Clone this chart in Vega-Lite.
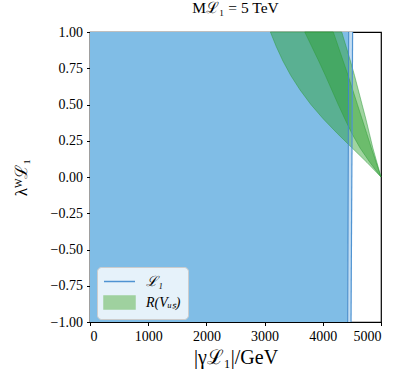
{
  "$schema": "https://vega.github.io/schema/vega-lite/v6.json",
  "autosize": "none",
  "padding": {"left": 90, "top": 32, "right": 26, "bottom": 61},
  "width": 291,
  "height": 290,
  "background": "white",
  "title": {"text": "Mℒ₁ = 5 TeV", "font": "Liberation Serif", "fontSize": 15.5, "fontWeight": "normal", "color": "black", "offset": 9, "anchor": "middle"},
  "config": {
    "view": {"stroke": "black", "strokeWidth": 1.2},
    "style": {"guide-label": {"font": "Liberation Serif"}, "guide-title": {"font": "Liberation Serif"}},
    "axis": {"grid": false, "domainColor": "black", "domainWidth": 1.2, "tickColor": "black", "tickSize": 3.5, "labelFont": "Liberation Serif", "labelFontSize": 14, "labelColor": "black", "titleFont": "Liberation Serif", "titleFontSize": 20, "titleFontWeight": "normal", "titleColor": "black", "zindex": 2},
    "legend": {"labelFont": "Liberation Serif"}
  },
  "datasets": {
    "blue": [
      {"s": "ℒ₁", "y": -1, "xf": 4428, "xl": 4485},
      {"s": "ℒ₁", "y": 1, "xf": 4445, "xl": 4512}
    ],
    "green": [
      {"band": "1", "y": 0, "xa": 5000, "xb": 5000},
      {"band": "1", "y": 0.1, "xa": 4760, "xb": 4918},
      {"band": "1", "y": 0.2, "xa": 4505, "xb": 4835},
      {"band": "1", "y": 0.3, "xa": 4250, "xb": 4755},
      {"band": "1", "y": 0.4, "xa": 4010, "xb": 4675},
      {"band": "1", "y": 0.5, "xa": 3795, "xb": 4595},
      {"band": "1", "y": 0.6, "xa": 3610, "xb": 4515},
      {"band": "1", "y": 0.7, "xa": 3450, "xb": 4435},
      {"band": "1", "y": 0.8, "xa": 3315, "xb": 4350},
      {"band": "1", "y": 0.9, "xa": 3200, "xb": 4265},
      {"band": "1", "y": 1.0, "xa": 3100, "xb": 4180},
      {"band": "2", "y": 0, "xa": 5000, "xb": 5000},
      {"band": "2", "y": 0.1, "xa": 4810, "xb": 4930},
      {"band": "2", "y": 0.2, "xa": 4640, "xb": 4860},
      {"band": "2", "y": 0.3, "xa": 4500, "xb": 4800},
      {"band": "2", "y": 0.4, "xa": 4380, "xb": 4740},
      {"band": "2", "y": 0.5, "xa": 4265, "xb": 4675},
      {"band": "2", "y": 0.6, "xa": 4155, "xb": 4610},
      {"band": "2", "y": 0.7, "xa": 4045, "xb": 4545},
      {"band": "2", "y": 0.8, "xa": 3930, "xb": 4475},
      {"band": "2", "y": 0.9, "xa": 3810, "xb": 4400},
      {"band": "2", "y": 1.0, "xa": 3690, "xb": 4325}
    ]
  },
  "encoding": {
    "y": {"field": "y", "type": "quantitative", "scale": {"domain": [-1, 1], "nice": false}, "axis": {"values": [-1, -0.75, -0.5, -0.25, 0, 0.25, 0.5, 0.75, 1], "format": ".2f", "title": "λᵂℒ₁", "titleFontSize": 17, "titlePadding": 20, "labelFont": "Liberation Serif", "labelPadding": 4}}
  },
  "layer": [
    {
      "data": {"name": "blue"},
      "mark": {"type": "area", "orient": "horizontal", "color": "#80bde6"},
      "encoding": {
        "x": {"field": "xf", "type": "quantitative", "scale": {"domain": [0, 5000], "nice": false}, "axis": {"values": [0, 1000, 2000, 3000, 4000, 5000], "format": "d", "title": "|γℒ₁|/GeV", "titlePadding": 4, "labelFont": "Liberation Serif", "labelPadding": 4}},
        "x2": {"datum": 0}
      }
    },
    {
      "data": {"name": "blue"},
      "mark": {"type": "area", "orient": "horizontal", "color": "#c4def3"},
      "encoding": {
        "x": {"field": "xl", "type": "quantitative"},
        "x2": {"field": "xf"}
      }
    },
    {
      "data": {"name": "green"},
      "mark": {"type": "area", "orient": "horizontal", "color": "#2ca02c", "fillOpacity": 0.45, "stroke": "#2e9a3a", "strokeOpacity": 0.5, "strokeWidth": 1},
      "encoding": {
        "x": {"field": "xa", "type": "quantitative"},
        "x2": {"field": "xb"},
        "detail": {"field": "band"}
      }
    },
    {
      "data": {"name": "blue"},
      "mark": {"type": "line", "color": "#3f86c8", "strokeWidth": 1},
      "encoding": {
        "x": {"field": "xf", "type": "quantitative"},
        "order": {"field": "y"}
      }
    },
    {
      "data": {"name": "blue"},
      "mark": {"type": "line", "strokeWidth": 1.2},
      "encoding": {
        "x": {"field": "xl", "type": "quantitative"},
        "order": {"field": "y"},
        "color": {"field": "s", "type": "nominal",
          "scale": {"domain": ["ℒ₁", "R(Vᵤₛ)"], "range": ["#4f93d2", "#9fd19f"]},
          "legend": {
            "title": null, "orient": "none", "legendX": 7, "legendY": 235,
            "padding": 7, "fillColor": "rgba(255,255,255,0.8)", "strokeColor": "#cccccc", "cornerRadius": 4,
            "symbolSize": 167, "symbolOffset": 8, "labelOffset": 19, "rowPadding": 4,
            "labelFont": "Liberation Serif", "labelFontSize": 14, "labelFontStyle": "italic", "labelColor": "black",
            "encode": {"symbols": {"update": {
              "shape": {"signal": "datum.value == 'ℒ₁' ? 'M-2.4,0H2.4' : 'M-2.4,-1H2.4V1H-2.4Z'"},
              "fill": {"signal": "datum.value == 'ℒ₁' ? 'transparent' : '#9fd19f'"},
              "stroke": {"scale": "color", "field": "value"},
              "strokeWidth": {"value": 1.5},
              "opacity": {"value": 1},
              "fillOpacity": {"value": 1},
              "strokeOpacity": {"value": 1}
            }}}
          }
        }
      }
    },
    {
      "mark": {"type": "rule", "color": "black", "strokeWidth": 1.2},
      "encoding": {"y": {"datum": 1}}
    },
    {
      "mark": {"type": "rule", "color": "black", "strokeWidth": 1.2},
      "encoding": {"x": {"datum": 5000}}
    }
  ]
}
